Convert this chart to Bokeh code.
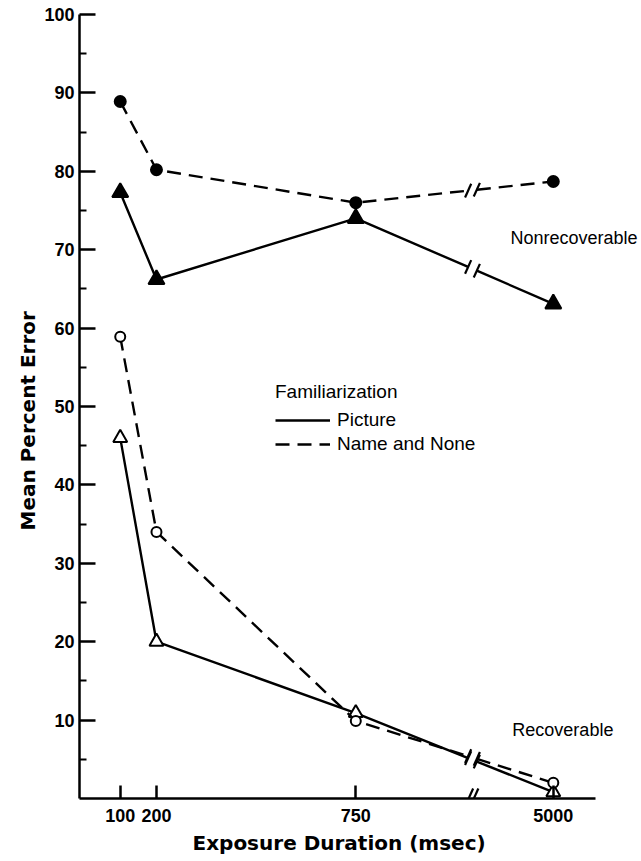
import numpy as np
from bokeh.plotting import figure
from bokeh.models import Range1d, FixedTicker, Label, Legend, LegendItem, Title
from bokeh.embed import file_html
from bokeh.resources import INLINE

# ---------------- data ----------------
durations = [100, 200, 750, 5000]
duration_labels = ["100", "200", "750", "5000"]
nonrec_picture = [77.3, 66.2, 74.0, 63.1]
nonrec_name_none = [88.9, 80.2, 76.0, 78.7]
rec_picture = [46.0, 20.0, 10.9, 0.8]
rec_name_none = [58.9, 34.0, 9.9, 2.0]
y_major = [10, 20, 30, 40, 50, 60, 70, 80, 90, 100]
y_minor = [5, 15, 25, 35, 45, 55, 65, 75, 85, 95]

# ---------------- broken x scale ----------------
BREAK = 1072.0          # position of the axis break
END_POS = 1295.0        # where the last duration lands after the break
COMPRESS = (END_POS - BREAK) / (max(durations) - BREAK)
GAP = 12.0              # half gap of the line break
X_START, X_AXIS_END, X_FRAME_END = -12.4, 1411.4, 1538.4


def xpos(ms):
    ms = np.asarray(ms, dtype=float)
    return np.where(ms <= BREAK, ms, BREAK + (ms - BREAK) * COMPRESS)


X = xpos(durations)
xticks = [int(round(v)) for v in X]

FONT = "Liberation Sans"
LABEL_FONT = "DejaVu Sans"

p = figure(width=641, height=861, output_backend="svg", toolbar_location=None,
           x_range=Range1d(X_START, X_FRAME_END), y_range=Range1d(0, 100),
           min_border_left=79, min_border_right=0, min_border_top=14,
           min_border_bottom=63)
p.title.visible = False
p.outline_line_color = None
p.xgrid.visible = False
p.ygrid.visible = False
p.background_fill_color = "white"
p.border_fill_color = "white"

LW = 2.4
DASH = "14 8"


def draw_series(ys, dash, marker, size, filled):
    Y = np.asarray(ys, dtype=float)
    xl, xr = BREAK - GAP, BREAK + GAP
    yl, yr = np.interp(xl, X, Y), np.interp(xr, X, Y)
    left = X < BREAK
    r1 = p.line(list(X[left]) + [xl], list(Y[left]) + [yl], line_color="black",
                line_width=LW, line_dash=dash)
    p.line([xr] + list(X[~left]), [yr] + list(Y[~left]), line_color="black",
           line_width=LW, line_dash=dash)
    p.scatter([xl, xr], [yl, yr], marker="dash", size=15, angle=1.15,
              line_color="black", line_width=2.2)
    p.scatter(X, Y, marker=marker, size=size, line_color="black",
              line_width=2.0, fill_color="black" if filled else "white")
    return r1


r_pic = draw_series(nonrec_picture, "solid", "triangle", 16, True)
r_name = draw_series(nonrec_name_none, DASH, "circle", 11, True)
draw_series(rec_picture, "solid", "triangle", 14, False)
draw_series(rec_name_none, DASH, "circle", 10, False)

# axis break marks on the x axis
p.scatter([BREAK - GAP * 0.6, BREAK + GAP * 0.6], [0.35, 0.35], marker="dash",
          size=16, angle=1.15, line_color="black", line_width=2.2)

# ---------------- axes ----------------
for ax in (p.xaxis[0], p.yaxis[0]):
    ax.major_tick_out = 0
    ax.axis_line_width = 2.5
    ax.axis_line_color = "black"
    ax.major_tick_line_width = 2.5
    ax.major_tick_line_color = "black"
    ax.major_label_text_font = FONT
    ax.major_label_text_font_style = "bold"
    ax.major_label_text_font_size = "18px"
    ax.major_label_text_color = "black"

xa = p.xaxis[0]
xa.bounds = (X_START, X_AXIS_END)
xa.ticker = FixedTicker(ticks=xticks, minor_ticks=[])
xa.major_label_overrides = {t: lab for t, lab in zip(xticks, duration_labels)}
xa.major_tick_in = 13
xa.minor_tick_line_color = None
xa.major_label_standoff = 10

ya = p.yaxis[0]
ya.ticker = FixedTicker(ticks=y_major, minor_ticks=y_minor)
ya.major_tick_in = 16
ya.minor_tick_in = 7
ya.minor_tick_out = 0
ya.minor_tick_line_width = 2.0
ya.minor_tick_line_color = "black"
ya.major_label_standoff = 5

# axis titles (offset along the axis as in the original)
p.add_layout(Title(text="Exposure Duration (msec)", align="left", offset=113,
                   standoff=8, text_font=LABEL_FONT, text_font_size="20px",
                   text_font_style="bold", text_color="black"), "below")
p.add_layout(Title(text="Mean Percent Error", align="left", offset=268,
                   standoff=3, text_font=LABEL_FONT, text_font_size="20px",
                   text_font_style="bold", text_color="black"), "left")

# ---------------- legend ----------------
legend = Legend(items=[LegendItem(label="Picture", renderers=[r_pic]),
                       LegendItem(label="Name and None", renderers=[r_name])],
                title="Familiarization", location=(196, 343),
                border_line_color=None, background_fill_alpha=0,
                padding=0, margin=0, spacing=2, glyph_width=55, glyph_height=20,
                label_height=20, label_standoff=7,
                label_text_font=FONT, label_text_font_size="19px",
                label_text_color="black",
                title_text_font=FONT, title_text_font_size="19px",
                title_text_color="black",
                title_text_font_style="normal", title_standoff=6)
p.add_layout(legend)

# ---------------- group labels ----------------
p.add_layout(Label(x=1177, y=71.5, text="Nonrecoverable", text_baseline="middle",
                   text_font=FONT, text_font_size="18px", text_color="black"))
p.add_layout(Label(x=1182, y=8.7, text="Recoverable", text_baseline="middle",
                   text_font=FONT, text_font_size="18px", text_color="black"))

open("out.html", "w").write(file_html(p, INLINE))
